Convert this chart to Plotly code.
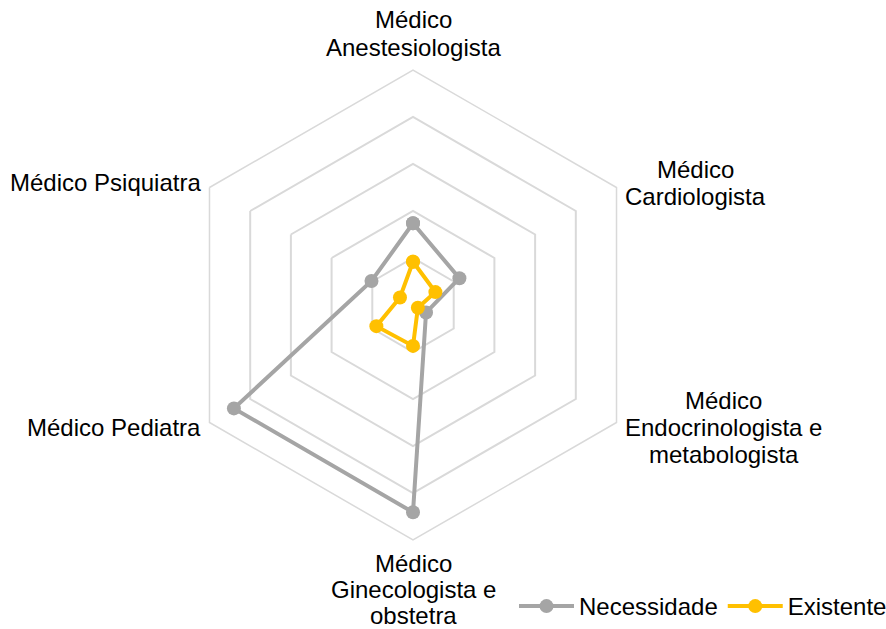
import math
import plotly.graph_objects as go

# Specialties shown on the radar (clockwise from the top)
categorias = [
    "Médico<br>Anestesiologista",
    "Médico<br>Cardiologista",
    "Médico<br>Endocrinologista e<br>metabologista",
    "Médico<br>Ginecologista e<br>obstetra",
    "Médico Pediatra",
    "Médico Psiquiatra",
]
necessidade = [17.4, 11.4, 3.2, 44.1, 44.0, 10.2]
existente = [9.2, 5.5, 1.2, 8.7, 9.0, 3.2]
radial_ticks = [10, 20, 30, 40, 50]

W, H = 886, 629
cx_px, cy_px, R_px = 413, 305, 235

cor_necessidade = "#A5A5A5"
cor_existente = "#FFC000"
cor_grade = "#D9D9D9"
fonte = "Liberation Sans, Arial, sans-serif"
tam_fonte = 24
entrelinha = 27

# Advance widths (1/1000 em) of the sans-serif face, used to centre stacked lines
LARGURAS = {
    "a": 556, "b": 556, "c": 500, "d": 556, "e": 556, "f": 278, "g": 556,
    "h": 556, "i": 222, "j": 222, "k": 500, "l": 222, "m": 833, "n": 556,
    "o": 556, "p": 556, "q": 556, "r": 333, "s": 500, "t": 278, "u": 556,
    "v": 500, "w": 722, "x": 500, "y": 500, "z": 500, " ": 278, "é": 556,
    "M": 833, "A": 667, "C": 722, "E": 667, "G": 778, "P": 667,
}


def largura_texto(txt):
    return sum(LARGURAS.get(ch, 556) for ch in txt) * tam_fonte / 1000


def fechar(v):
    return list(v) + [v[0]]


fig = go.Figure()
for nome, valores, cor in [
    ("Necessidade", necessidade, cor_necessidade),
    ("Existente", existente, cor_existente),
]:
    fig.add_trace(go.Scatterpolar(
        r=fechar(valores),
        theta=fechar(categorias),
        name=nome,
        mode="lines+markers",
        line=dict(color=cor, width=4),
        marker=dict(color=cor, size=14),
        cliponaxis=False,
    ))

fig.update_layout(
    width=W,
    height=H,
    margin=dict(l=0, r=0, t=0, b=0, autoexpand=False),
    paper_bgcolor="white",
    font=dict(family=fonte, size=tam_fonte, color="black"),
    polar=dict(
        domain=dict(
            x=[(cx_px - R_px) / W, (cx_px + R_px) / W],
            y=[(H - cy_px - R_px) / H, (H - cy_px + R_px) / H],
        ),
        bgcolor="white",
        gridshape="linear",
        radialaxis=dict(
            range=[0, radial_ticks[-1]],
            tickvals=radial_ticks,
            showticklabels=False,
            ticks="",
            showline=False,
            gridcolor=cor_grade,
            gridwidth=1.5,
        ),
        angularaxis=dict(
            direction="clockwise",
            rotation=90,
            showticklabels=False,
            ticks="",
            showgrid=False,
            showline=True,
            linecolor=cor_grade,
            linewidth=1.5,
        ),
    ),
    showlegend=True,
    legend=dict(
        orientation="h",
        x=1.0 + 6 / W,
        xanchor="right",
        y=0.0,
        yanchor="bottom",
        font=dict(family=fonte, size=tam_fonte, color="black"),
        itemwidth=55,
        bgcolor="rgba(0,0,0,0)",
    ),
)

# Category labels placed just outside each hexagon vertex, one annotation per line,
# with the lines of a label centred on one another
n = len(categorias)
for i, rotulo in enumerate(categorias):
    linhas = rotulo.split("<br>")
    ang = math.radians(90 - i * 360 / n)
    c, s = math.cos(ang), math.sin(ang)
    if abs(c) < 0.1:
        xc = cx_px
        if s > 0:
            y_ultima = cy_px - R_px - 23
            centros = [y_ultima - (len(linhas) - 1 - k) * entrelinha for k in range(len(linhas))]
        else:
            y_primeira = cy_px + R_px + 23
            centros = [y_primeira + k * 26 for k in range(len(linhas))]
    else:
        bloco = max(largura_texto(l) for l in linhas)
        borda = cx_px + (R_px + 10) * c
        xc = borda + bloco / 2 if c > 0 else borda - bloco / 2
        py = cy_px - (R_px + 9) * s
        centros = [py + (k - (len(linhas) - 1) / 2) * entrelinha for k in range(len(linhas))]
    for linha, yc in zip(linhas, centros):
        fig.add_annotation(
            x=xc / W,
            y=1 - yc / H,
            xref="paper",
            yref="paper",
            text=linha,
            showarrow=False,
            xanchor="center",
            yanchor="middle",
            align="center",
            borderpad=0,
            font=dict(family=fonte, size=tam_fonte, color="black"),
        )

fig.write_html("out.html")
